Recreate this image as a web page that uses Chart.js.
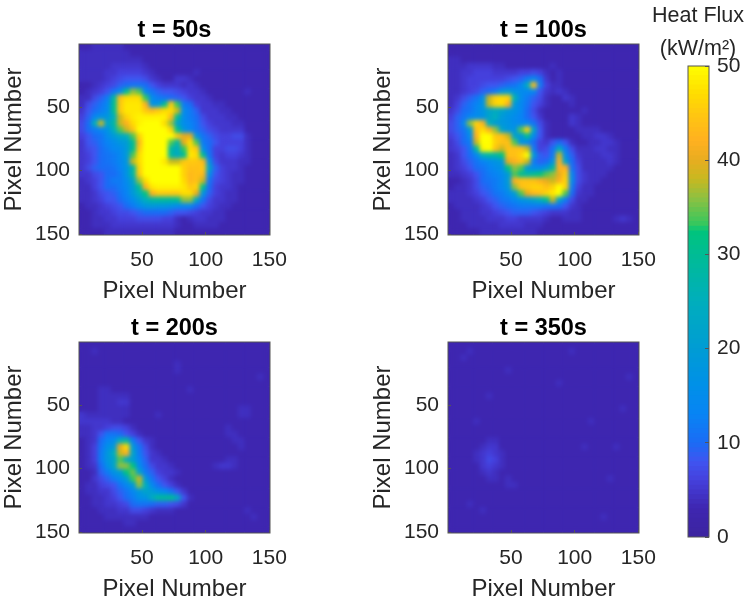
<!DOCTYPE html>
<html><head><meta charset="utf-8">
<script src="https://cdn.jsdelivr.net/npm/chart.js@4"></script>
<style>
html,body{margin:0;padding:0;background:#fff;overflow:hidden;width:747px;height:601px}
canvas{position:absolute}
</style></head><body>
<canvas id="c1" style="left:0;top:0"></canvas>
<canvas id="c2" style="left:369px;top:0"></canvas>
<canvas id="c3" style="left:0;top:298px"></canvas>
<canvas id="c4" style="left:369px;top:298px"></canvas>
<canvas id="cb" style="left:649px;top:0"></canvas>
<script>
const panelTitles = ["t = 50s","t = 100s","t = 200s","t = 350s"];
const axisLabel = "Pixel Number";
const tickLabels = [50,100,150];
const barTicks = [0,10,20,30,40,50];
const barTitle = ["Heat Flux","(kW/m²)"];
const stopValues = [0,3,6,8,10,13,16,20,25,30,32.5,33,36,38,40,42,45,47,50];
const stopColors = ["#3c24a0","#3e26b0","#4540dc","#3f55f0","#1a6cf5","#0884f4","#0090e8","#009cd4","#00aebc","#00bc94","#00c47c","#30c860","#90c040","#c8b820","#e8ac20","#ffb020","#ffc810","#ffdc00","#ffff00"];

const heat50 = [
[3,3,4,4,4,4,4,3,3,3,3,3,3,3,3,3,3,3,3,3,3,3,3,3,3,3,3,3,3,3],
[4,4,4,4,4,4,4,4,3,3,3,3,3,3,3,3,3,3,3,3,3,3,3,3,3,3,3,3,3,3],
[4,4,4,4,4,4,4,4,4,4,3,3,3,3,3,3,3,3,3,3,3,3,3,3,3,3,3,3,3,3],
[4,4,4,4,4,5,5,5,5,5,4,3,3,3,3,3,3,3,3,3,3,3,3,3,3,3,3,3,3,3],
[4,4,4,4,5,5,6,6,6,6,5,4,3,3,3,3,3,3,4,3,3,3,3,3,3,3,3,3,3,3],
[4,4,4,4,5,6,7,8,8,8,7,5,4,3,3,5,5,4,3,3,3,3,3,3,3,3,3,3,3,3],
[3,3,4,5,6,7,9,10,11,11,10,8,6,5,5,5,4,5,4,3,3,3,3,3,3,3,3,3,3,3],
[3,4,5,6,8,11,15,30,36,34,14,11,9,8,8,7,6,5,5,4,3,3,3,3,3,3,4,3,3,3],
[4,4,7,9,12,28,44,47,47,47,33,15,12,11,10,9,8,6,5,5,4,3,3,3,3,3,3,3,3,3],
[4,7,9,11,14,30,45,48,48,48,42,17,18,30,45,33,12,10,6,5,5,4,4,3,3,3,3,3,3,3],
[5,8,10,12,15,30,45,48,48,48,45,43,45,47,47,38,15,12,9,5,5,5,4,4,3,3,3,3,3,3],
[6,9,14,17,18,25,38,46,48,49,49,49,49,49,43,30,15,12,10,7,5,5,5,4,4,3,3,3,3,3],
[7,10,25,38,22,28,38,42,47,49,50,50,50,47,36,22,15,13,11,8,6,5,5,5,4,4,3,3,3,3],
[7,10,12,14,17,25,34,38,44,50,50,50,50,50,46,31,18,14,11,9,7,6,5,5,5,5,3,3,3,3],
[6,8,10,11,15,19,23,25,34,46,50,50,50,50,50,45,40,40,18,11,9,7,6,6,7,7,4,3,3,3],
[5,8,9,11,13,15,18,20,30,43,50,50,50,50,34,28,40,47,34,12,10,8,6,6,6,6,4,3,3,3],
[5,7,8,10,12,14,15,19,30,45,50,50,50,50,28,24,33,47,45,16,10,6,6,7,7,6,4,3,3,3],
[5,6,8,10,11,12,14,19,34,47,50,50,50,50,28,24,30,48,47,30,11,6,5,6,6,5,4,3,3,3],
[5,6,8,10,11,12,14,18,38,47,50,50,50,48,38,38,45,45,45,43,16,7,5,5,5,4,4,3,3,3],
[5,7,9,10,10,11,13,17,28,46,50,50,50,50,50,50,46,44,44,45,22,9,6,5,5,4,3,3,3,3],
[5,5,7,8,10,10,12,17,28,45,50,50,50,50,50,50,46,43,44,43,16,8,6,5,4,4,3,3,3,3],
[4,5,6,8,10,12,12,15,22,36,47,50,50,50,50,50,47,43,44,38,11,7,6,5,4,4,3,3,3,3],
[4,4,6,8,10,10,12,14,20,30,42,48,49,49,49,49,48,45,46,30,10,6,5,5,4,3,3,3,3,3],
[4,4,5,7,8,9,11,13,19,25,32,42,45,45,45,45,47,47,40,18,9,6,5,4,4,3,3,3,3,3],
[4,4,5,6,8,8,10,12,15,20,25,28,29,29,29,30,36,36,24,11,7,5,5,4,4,3,3,3,3,3],
[3,4,4,5,6,7,8,10,12,15,18,19,18,18,17,15,14,14,10,8,6,5,4,4,3,3,3,3,3,3],
[3,3,4,5,5,6,7,7,8,9,10,10,10,10,9,8,8,7,6,5,5,4,4,3,3,3,3,3,3,3],
[3,3,4,4,5,5,6,6,6,7,7,7,7,6,6,4,3,4,5,5,4,4,4,3,3,3,3,3,3,3],
[3,3,4,4,4,5,5,5,5,5,5,5,5,5,5,4,3,3,4,4,4,4,3,3,3,3,3,3,3,3],
[3,3,3,3,4,4,4,4,4,4,4,4,4,4,4,3,3,3,3,3,3,3,3,3,3,3,3,3,3,3]
];
const heat100 = [
[3,3,3,3,3,3,3,3,3,3,3,3,3,3,3,3,3,3,3,3,3,3,3,3,3,3,3,3,3,3],
[3,3,3,3,3,3,3,3,3,3,3,3,3,3,3,3,3,3,3,3,3,3,3,3,3,3,3,3,3,3],
[4,4,3,3,3,3,3,3,3,3,3,3,3,3,3,3,3,3,3,3,3,3,3,3,3,3,3,3,3,3],
[4,4,4,5,5,5,5,4,4,3,3,3,3,3,3,3,4,3,3,3,3,3,3,3,3,3,3,3,3,3],
[4,4,5,5,6,6,6,5,5,5,5,6,6,7,6,4,3,4,3,3,3,3,3,3,3,3,3,3,3,3],
[4,4,5,6,6,6,6,6,6,7,8,9,12,14,10,5,3,4,3,3,3,3,3,3,3,3,3,3,3,3],
[4,4,5,6,6,7,8,8,9,10,11,14,24,44,12,6,4,4,3,3,3,3,3,3,3,3,3,3,3,3],
[4,4,5,6,7,9,10,12,18,20,17,15,14,14,8,5,4,5,4,3,3,3,3,3,3,3,3,3,3,3],
[4,5,7,9,11,16,38,46,47,46,26,15,12,9,7,4,3,3,5,4,3,3,3,3,3,3,3,3,3,3],
[4,6,9,11,13,17,38,46,47,42,19,14,11,8,6,4,3,3,3,4,3,3,3,3,3,3,3,3,3,3],
[5,7,10,11,14,17,22,24,22,19,17,14,10,7,4,3,3,3,3,3,3,4,3,3,3,3,3,3,3,3],
[6,9,11,14,15,17,22,25,19,17,15,13,10,8,5,3,3,3,3,5,4,3,3,3,3,3,3,3,3,3],
[7,9,14,36,46,42,25,20,18,17,15,14,14,11,7,4,3,3,3,5,4,3,3,3,3,3,3,3,3,3],
[7,9,11,19,44,47,42,36,22,18,17,34,46,22,8,4,3,3,3,3,4,4,4,4,3,3,3,3,3,3],
[6,8,10,15,42,50,50,45,44,38,22,19,30,15,8,4,3,3,3,3,3,4,4,5,5,4,3,3,3,3],
[5,7,10,12,38,50,50,46,44,44,34,17,14,10,6,5,8,10,8,4,3,3,4,4,5,5,4,3,3,3],
[5,6,8,11,28,49,50,44,38,44,44,44,38,12,6,7,11,25,12,7,4,4,4,5,5,4,4,3,3,3],
[4,5,8,10,14,25,28,28,32,44,44,46,50,19,9,8,12,38,15,9,5,4,4,4,5,5,4,3,3,3],
[4,5,7,9,11,13,15,17,19,40,42,44,38,12,9,10,17,42,22,10,6,4,4,4,4,5,4,3,3,3],
[4,5,6,8,10,11,13,15,17,32,36,34,19,15,15,19,28,42,42,11,7,4,4,4,4,4,3,3,3,3],
[4,4,5,6,8,10,12,13,15,20,34,30,28,30,32,34,36,40,45,14,7,5,4,4,4,3,3,3,3,3],
[3,3,4,5,7,10,11,12,14,20,42,44,44,44,42,40,38,42,46,15,7,5,4,4,3,3,3,3,3,3],
[3,4,4,5,7,9,10,12,14,18,36,44,45,46,46,44,46,50,46,12,6,4,4,3,3,3,3,3,3,3],
[4,4,4,5,6,8,9,11,12,15,20,34,40,43,44,46,48,50,34,10,5,4,4,3,3,3,3,3,3,3],
[4,4,4,4,5,6,8,9,11,12,14,17,19,22,25,30,38,22,12,7,4,4,3,3,3,3,3,3,3,3],
[3,4,4,4,4,5,6,8,9,10,11,12,12,12,12,11,11,10,8,5,4,3,3,3,3,3,3,3,3,3],
[3,3,4,4,4,5,5,6,7,8,9,9,9,8,7,6,5,5,5,4,4,3,3,3,3,3,3,3,3,3],
[3,3,4,4,4,4,5,5,5,6,6,5,5,5,5,4,3,3,4,4,4,3,3,3,3,3,4,5,4,3],
[3,3,3,4,4,4,4,4,5,5,5,5,4,4,4,3,3,3,3,3,3,3,3,3,3,3,3,3,3,3],
[3,3,3,3,3,4,4,4,4,4,4,4,4,4,3,3,3,3,3,3,3,3,3,3,3,3,3,3,3,3]
];
const heat200 = [
[3,3,3,3,3,3,3,3,3,3,3,3,3,3,3,3,3,3,3,3,3,3,3,3,3,3,3,3,3,3],
[3,3,4,3,3,3,3,3,3,3,3,3,3,3,3,3,3,3,3,3,3,3,3,3,3,3,3,3,3,3],
[3,3,3,3,3,3,3,3,3,3,3,3,3,3,3,3,3,3,3,3,3,3,3,3,3,3,3,3,3,3],
[3,3,3,3,3,3,3,3,3,3,3,3,3,3,3,4,3,3,3,3,3,3,3,3,3,3,3,3,3,3],
[3,3,3,3,3,3,3,3,3,3,3,3,3,3,3,4,3,3,3,3,3,3,3,3,3,3,3,3,3,3],
[3,3,3,3,3,3,3,3,3,3,3,3,3,3,3,3,3,3,3,3,3,3,3,3,3,3,3,3,4,3],
[3,3,3,3,3,3,3,3,3,3,3,3,3,3,3,3,3,3,3,3,3,3,3,3,3,3,3,3,3,3],
[3,3,3,4,4,3,3,3,3,3,3,3,3,3,3,3,3,4,3,3,3,3,3,3,3,3,3,3,3,3],
[3,3,3,4,4,4,4,4,3,3,3,3,3,3,3,3,3,3,3,3,3,3,3,3,3,3,3,3,3,3],
[3,3,3,4,4,4,5,5,3,3,3,3,3,3,3,3,3,3,3,3,3,3,3,3,3,3,3,3,3,3],
[3,3,3,4,4,4,4,4,3,3,3,3,3,3,3,3,3,3,3,3,3,3,3,3,3,4,4,3,3,3],
[5,4,4,4,4,4,4,4,3,3,3,3,4,3,3,3,3,3,3,3,3,3,3,3,3,4,4,3,3,3],
[5,5,5,5,5,4,4,3,3,3,3,3,3,3,3,3,3,3,3,3,3,3,3,3,3,3,3,3,3,3],
[4,4,5,5,6,7,7,6,4,3,3,3,3,3,3,3,3,3,3,3,3,3,3,4,3,3,3,3,3,3],
[4,4,5,8,11,11,10,8,6,4,3,3,3,3,3,3,3,3,3,3,3,3,3,4,4,3,3,3,3,3],
[3,4,5,10,13,15,25,28,12,8,5,4,3,3,3,3,3,3,3,3,3,3,3,3,4,4,3,3,3,3],
[3,4,6,11,16,19,40,47,19,11,7,4,3,3,3,3,3,3,3,3,3,3,3,3,3,4,3,3,3,3],
[3,4,6,12,18,25,38,42,22,12,8,5,4,3,3,3,3,3,3,3,3,3,3,3,3,3,3,3,3,3],
[3,4,6,12,18,22,34,25,20,13,9,5,5,4,3,3,3,3,3,3,3,3,3,4,4,3,3,3,3,3],
[3,4,5,10,16,22,36,36,32,15,10,7,5,5,4,3,3,3,3,3,3,4,5,5,4,3,3,3,3,3],
[3,3,4,9,12,17,20,32,35,22,12,9,6,5,5,4,3,3,3,3,3,3,3,3,3,3,3,3,3,3],
[3,3,5,7,9,12,15,20,33,38,19,11,8,6,4,3,3,3,3,3,3,3,3,3,3,3,3,3,3,3],
[3,4,4,6,7,8,11,14,19,36,25,14,10,8,6,4,3,3,3,3,3,3,3,3,3,3,3,3,3,3],
[3,4,4,5,5,7,9,11,14,18,22,20,16,14,11,8,5,3,3,3,3,3,3,3,3,3,3,3,3,3],
[3,3,4,4,5,6,8,10,12,16,17,24,29,29,30,24,8,4,3,3,3,3,3,3,3,3,3,3,3,3],
[3,3,4,4,5,5,6,7,10,11,11,10,9,9,8,7,5,3,3,3,3,3,3,3,3,3,3,3,3,3],
[3,3,3,4,4,4,5,5,7,7,6,5,4,4,4,3,3,3,3,3,3,3,3,3,3,3,4,3,3,3],
[3,3,3,3,4,4,4,4,4,4,4,3,3,3,3,3,3,3,3,3,3,3,3,3,3,3,3,4,3,3],
[3,3,3,3,3,3,3,4,4,3,3,3,3,3,3,3,3,3,3,3,3,3,3,3,3,3,3,3,3,3],
[3,3,3,3,3,3,3,3,3,3,3,3,3,3,3,3,3,3,3,3,3,3,3,3,3,3,3,3,3,3]
];
const heat350 = [
[3,3,3,3,3,3,3,3,3,3,3,3,3,3,3,3,3,3,3,3,3,3,3,3,3,3,3,3,3,3],
[3,3,3,4,3,3,3,3,3,3,3,3,3,3,3,3,3,3,3,4,3,3,3,3,3,3,3,3,3,3],
[3,3,4,3,3,3,3,3,3,3,3,3,3,3,3,3,3,3,3,3,3,3,3,3,3,3,3,3,3,3],
[3,3,3,3,3,3,3,3,3,3,3,3,3,3,3,3,3,3,3,3,3,3,3,3,3,3,3,3,3,3],
[3,3,3,3,3,3,3,3,3,4,3,3,3,3,3,3,3,3,3,3,3,3,3,3,3,3,3,3,3,3],
[3,3,3,3,3,3,3,3,3,3,3,3,3,3,3,3,3,3,3,3,3,3,3,3,3,3,3,3,4,3],
[3,3,3,3,3,3,3,3,3,3,3,3,3,3,3,3,3,4,3,3,3,3,3,3,3,3,3,3,3,3],
[3,3,3,3,3,3,3,3,3,3,3,3,3,3,3,3,3,3,3,3,3,3,3,3,3,3,3,3,3,3],
[3,3,3,3,3,3,4,3,3,3,3,3,3,3,3,3,3,3,3,3,3,3,3,3,3,3,3,3,3,3],
[3,3,3,3,3,3,3,3,3,3,3,3,3,3,3,3,3,3,3,3,3,3,3,3,3,3,3,3,3,3],
[3,3,3,3,3,3,3,3,3,3,3,3,3,3,3,3,3,3,3,3,3,3,3,3,3,3,3,4,3,3],
[3,3,3,3,3,3,3,3,3,3,3,3,3,3,3,3,3,3,3,3,3,3,3,3,3,3,3,3,3,3],
[3,3,3,3,4,3,3,3,3,3,3,3,3,3,3,3,3,3,3,3,3,3,4,3,3,3,3,3,3,3],
[3,3,3,3,3,3,3,3,3,3,3,3,3,3,3,3,3,3,3,3,3,3,3,3,3,3,3,3,3,3],
[3,3,3,3,3,3,3,3,3,3,3,3,3,3,3,3,3,3,3,3,3,3,3,3,3,3,3,3,3,3],
[3,3,3,3,3,3,4,4,3,3,3,3,3,3,3,3,3,3,3,3,3,3,3,3,3,3,3,3,3,3],
[3,3,3,3,3,4,5,5,3,3,3,3,3,3,3,3,3,3,3,3,3,4,3,3,3,3,4,3,3,3],
[3,3,3,3,4,5,6,5,4,3,3,3,3,3,3,3,3,3,3,3,3,3,3,3,3,3,3,3,3,3],
[3,3,3,3,4,5,7,6,4,3,3,3,3,3,3,3,3,3,3,3,3,3,3,3,3,3,3,3,3,3],
[3,3,3,3,3,5,6,5,4,3,3,3,3,3,3,3,3,3,3,3,3,3,3,3,3,3,3,3,3,3],
[3,3,3,3,3,4,5,4,3,3,3,3,3,3,3,3,3,3,3,3,3,3,3,3,3,3,3,3,3,3],
[3,3,3,3,3,3,4,4,3,4,3,3,3,3,3,3,3,3,3,3,3,3,3,3,3,4,3,3,3,3],
[3,3,3,3,3,3,3,3,3,4,4,3,3,3,3,3,3,3,3,3,3,3,3,3,3,3,3,3,3,3],
[3,3,3,3,3,3,3,3,3,3,3,3,3,3,3,3,3,3,3,3,3,3,3,3,3,3,3,3,3,3],
[3,3,3,3,3,3,3,3,3,3,3,3,3,3,3,3,3,3,3,3,3,3,3,3,3,3,3,3,3,3],
[3,3,3,4,3,3,3,3,3,3,3,3,3,3,3,3,3,3,3,3,3,3,3,3,3,3,3,3,3,3],
[3,3,3,3,3,4,3,3,3,3,3,3,3,3,3,3,3,3,3,3,3,3,3,3,3,3,3,3,3,3],
[3,3,3,3,3,3,3,3,3,3,3,3,3,3,3,3,3,3,3,3,3,3,3,3,4,3,3,3,3,3],
[3,3,3,3,3,3,3,3,3,3,3,3,3,3,3,3,3,3,3,3,3,3,3,3,3,3,3,3,3,3],
[3,3,3,3,3,3,3,3,3,3,3,3,3,3,3,3,3,3,3,3,3,3,3,3,3,3,3,3,3,3]
];

const FONT = "'Liberation Sans',Arial,sans-serif";
const INK = "#262626", FRAME = "#555555";
const hex = h => [1,3,5].map(i => parseInt(h.substr(i,2),16));
function colorOf(v){
  let i = 0;
  while (i < stopValues.length-2 && v > stopValues[i+1]) i++;
  const t = Math.min(1,Math.max(0,(v-stopValues[i])/(stopValues[i+1]-stopValues[i])));
  const a = hex(stopColors[i]), b = hex(stopColors[i+1]);
  return "rgb("+a.map((x,k)=>Math.round(x+(b[k]-x)*t)).join(",")+")";
}
const smooth = {
  id:"smooth",
  afterDatasetsDraw(chart){
    const {left,top,width,height} = chart.chartArea, ctx = chart.ctx;
    const off = document.createElement("canvas");
    off.width = Math.ceil(width); off.height = Math.ceil(height);
    off.getContext("2d").drawImage(chart.canvas,left,top,width,height,0,0,width,height);
    ctx.save();
    ctx.beginPath(); ctx.rect(left,top,width,height); ctx.clip();
    ctx.filter = "blur(2.1px)";
    ctx.drawImage(off,left,top);
    ctx.restore();
    ctx.save();
    ctx.strokeStyle = FRAME; ctx.lineWidth = 1;
    ctx.strokeRect(left,top,width,height);
    ctx.restore();
  }
};
const axisOpts = (pos,reverse,fit,pad) => ({
  type:"linear", position:pos, min:0.5, max:150.5, reverse,
  afterBuildTicks(s){ s.ticks = tickLabels.map(value=>({value})); },
  afterFit: fit,
  grid:{display:true,drawOnChartArea:false,drawTicks:true,tickLength:-3,color:FRAME,z:1},
  border:{display:false},
  ticks:{color:INK,font:{family:FONT,size:21},padding:pad,maxRotation:0,autoSkip:false},
  title:{display:true,text:axisLabel,color:INK,font:{family:FONT,size:24,lineHeight:1.2},padding:0}
});
function panel(id,grid,title,cw,ch,top,xh){
  const cv = document.getElementById(id);
  cv.width = cw; cv.height = ch; cv.style.width=cw+"px"; cv.style.height=ch+"px";
  const pts = [], cols = [];
  grid.forEach((row,r)=>row.forEach((v,c)=>{
    pts.push({x:3+5*c,y:3+5*r,v}); cols.push(colorOf(v));
  }));
  new Chart(cv,{type:"scatter",
    data:{datasets:[{data:pts,pointStyle:"rect",pointRadius:4.9,pointHoverRadius:4.9,borderWidth:0,backgroundColor:cols,pointBackgroundColor:cols}]},
    options:{responsive:false,animation:false,devicePixelRatio:1,
      layout:{padding:{top,right:cw-270,left:0,bottom:0}},
      plugins:{legend:{display:false},tooltip:{enabled:false},
        title:{display:true,text:title,fullSize:false,color:"#000",font:{family:FONT,size:23.5,weight:"bold",lineHeight:"26px"},padding:{top:2,bottom:0}}},
      scales:{
        x:axisOpts("bottom",false,s=>{s.height=xh;},16),
        y:axisOpts("left",true,s=>{s.width=79;},12)
      }},
    plugins:[smooth]});
}
panel("c1",heat50,panelTitles[0],369,306,16,71);
panel("c2",heat100,panelTitles[1],369,306,16,71);
panel("c3",heat200,panelTitles[2],369,306,16,71);
panel("c4",heat350,panelTitles[3],369,306,16,71);

const barLevels = [];
for (let v=0.5; v<=50; v+=0.5) barLevels.push(v);
const cbv = document.getElementById("cb");
cbv.width=98; cbv.height=601; cbv.style.width="98px"; cbv.style.height="601px";
new Chart(cbv,{type:"bar",
  data:{labels:["Heat Flux"],datasets:barLevels.map(v=>({data:[[0,v]],backgroundColor:colorOf(v-0.25),borderWidth:0,grouped:false,barPercentage:1,categoryPercentage:1}))},
  options:{responsive:false,animation:false,devicePixelRatio:1,
    layout:{padding:{top:0,bottom:64}},
    plugins:{legend:{display:false},tooltip:{enabled:false},
      title:{display:true,text:barTitle,color:INK,font:{family:FONT,size:21.5,weight:"normal",lineHeight:"33px"},padding:0}},
    scales:{
      x:{display:false},
      hold:{type:"linear",position:"left",display:true,grid:{display:false},border:{display:false},ticks:{display:false},afterFit(s){s.width=39;}},
      y:{type:"linear",position:"right",min:0,max:50,
        afterBuildTicks(s){ s.ticks = barTicks.map(value=>({value})); },
        afterFit(s){s.width=38;},
        grid:{display:true,drawOnChartArea:false,drawTicks:true,tickLength:-4,color:FRAME,z:1},
        border:{display:false},
        ticks:{color:INK,font:{family:FONT,size:21},padding:12,autoSkip:false}}
    }},
  plugins:[{id:"frame",afterDatasetsDraw(chart){
    const {left,top,width,height}=chart.chartArea,ctx=chart.ctx;
    ctx.save();ctx.strokeStyle=FRAME;ctx.lineWidth=1;ctx.strokeRect(left,top,width,height);ctx.restore();
  }}]});
</script>
</body></html>
